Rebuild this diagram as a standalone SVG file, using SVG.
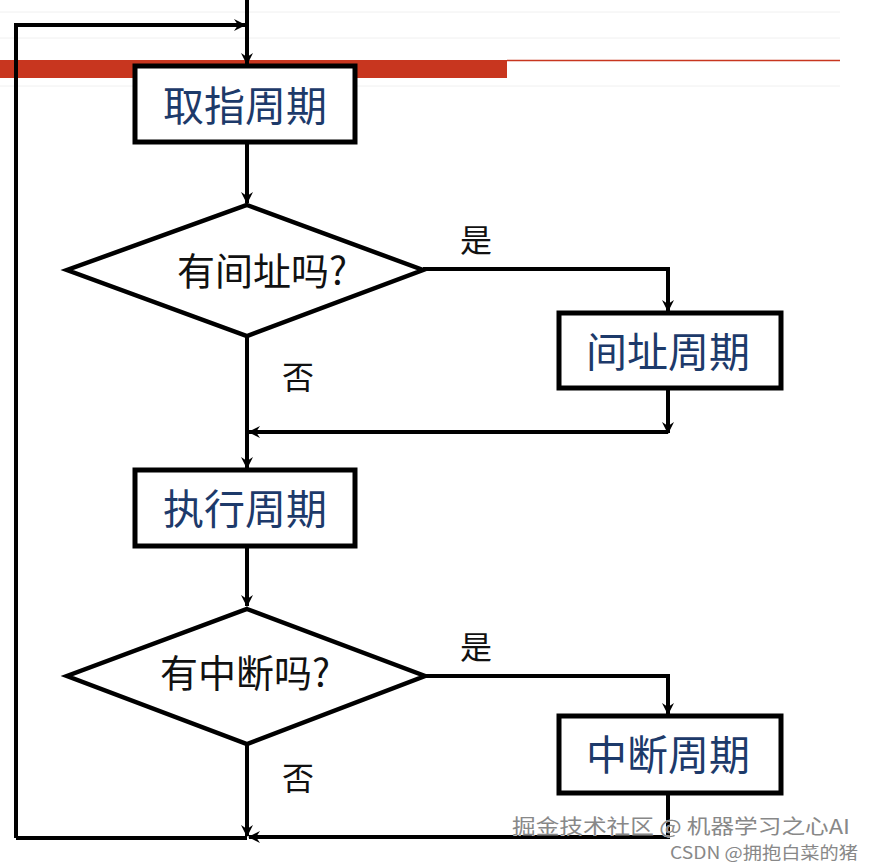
<svg xmlns="http://www.w3.org/2000/svg" width="875" height="864" viewBox="0 0 875 864">
<defs>
<marker id="ah" viewBox="0 0 12 12" refX="11" refY="6" markerWidth="12" markerHeight="12" markerUnits="userSpaceOnUse" orient="auto">
<path d="M0,0 L12,6 L0,12 L4,6 Z" fill="#000"/>
</marker>
<style>
.box{fill:#fff;stroke:#000;stroke-width:5}
.dia{fill:#fff;stroke:#000;stroke-width:4.5}
.ln{fill:none;stroke:#000;stroke-width:4}
.bt{font-family:"Noto Sans CJK SC","Noto Sans CJK TC",sans-serif;font-size:41px;fill:#1d3a6a;text-anchor:middle;dominant-baseline:central}
.dt{font-family:"Noto Sans CJK SC",sans-serif;font-size:38px;fill:#111;text-anchor:middle;dominant-baseline:central}
.lb{font-family:"Noto Sans CJK SC",sans-serif;font-size:32px;fill:#111;text-anchor:middle;dominant-baseline:central}
.wm{font-family:"Noto Sans CJK SC",sans-serif;fill:#888;stroke:#fff;stroke-width:0.6;paint-order:stroke}
</style>
</defs>
<rect width="875" height="864" fill="#fff"/>
<g stroke="#f0f0f0" stroke-width="1">
<line x1="0" y1="12" x2="840" y2="12"/>
<line x1="0" y1="38" x2="840" y2="38"/>
<line x1="0" y1="86" x2="840" y2="86"/>
</g>
<rect x="0" y="60" width="507" height="18" fill="#c8361f"/>
<line x1="507" y1="60.5" x2="840" y2="60.5" stroke="#c8361f" stroke-width="1.5"/>
<g id="connectors">
<path class="ln" d="M247,0 V64" marker-end="url(#ah)"/>
<path class="ln" d="M16,838 V25 H245" marker-end="url(#ah)"/>
<path class="ln" d="M247,144 V203" marker-end="url(#ah)"/>
<path class="ln" d="M423,269 H668 V311" marker-end="url(#ah)"/>
<path class="ln" d="M668,390 V433" marker-end="url(#ah)"/>
<path class="ln" d="M668,432 H249" marker-end="url(#ah)"/>
<path class="ln" d="M247,337 V468" marker-end="url(#ah)"/>
<path class="ln" d="M247,548 V606" marker-end="url(#ah)"/>
<path class="ln" d="M425,676 H668 V714" marker-end="url(#ah)"/>
<path class="ln" d="M247,745 V836" marker-end="url(#ah)"/>
<path class="ln" d="M668,795 V837 H249" marker-end="url(#ah)"/>
<path class="ln" d="M16,838 H247"/>
<text class="lb" x="476" y="238">是</text>
<text class="lb" x="298" y="375">否</text>
<text class="lb" x="476" y="645">是</text>
<text class="lb" x="298" y="776">否</text>
</g>
<g id="n1"><rect class="box" x="135" y="66" width="220" height="76"/><text class="bt" x="245" y="103">取指周期</text></g>
<g id="n2"><polygon class="dia" points="247,205 423,270 247,336 67,270"/><text class="dt" x="262" y="268">有间址吗?</text></g>
<g id="n3"><rect class="box" x="559" y="313" width="222" height="75"/><text class="bt" x="668" y="349">间址周期</text></g>
<g id="n4"><rect class="box" x="135" y="470" width="220" height="76"/><text class="bt" x="245" y="506">执行周期</text></g>
<g id="n5"><polygon class="dia" points="247,609 425,676 247,744 67,676"/><text class="dt" x="245" y="670">有中断吗?</text></g>
<g id="n6"><rect class="box" x="559" y="716" width="222" height="77"/><text class="bt" x="668" y="752">中断周期</text></g>
<g id="watermark">
<text class="wm" x="512" y="834" font-size="20" textLength="338" lengthAdjust="spacingAndGlyphs">掘金技术社区 @ 机器学习之心AI</text>
<text class="wm" x="670" y="859" font-size="17" textLength="188" lengthAdjust="spacingAndGlyphs">CSDN @拥抱白菜的猪</text>
</g>
</svg>
